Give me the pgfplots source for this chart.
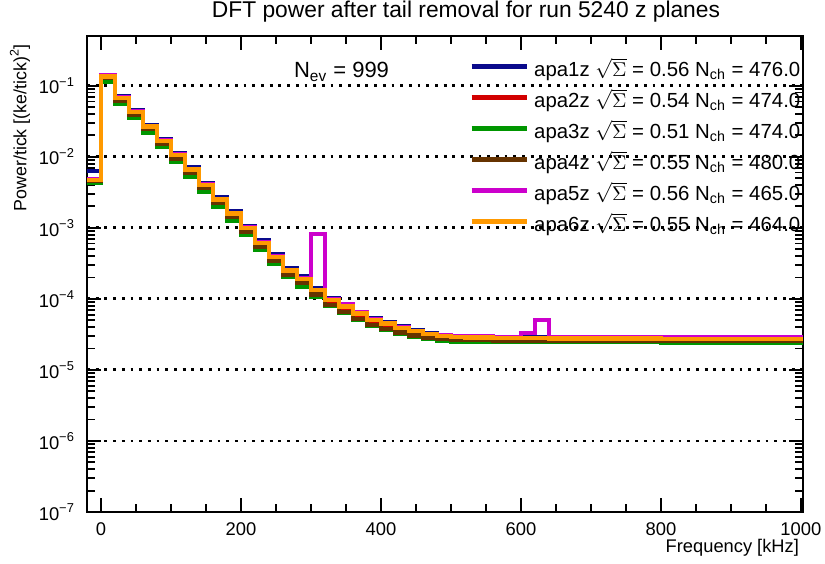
\documentclass[border=0pt]{standalone}
\usepackage{fontspec}
\setmainfont{Liberation Sans}
\usepackage{pgfplots}
\pgfplotsset{compat=1.18}

\definecolor{apaA}{RGB}{10,10,140}
\definecolor{apaB}{RGB}{210,0,0}
\definecolor{apaC}{RGB}{0,150,0}
\definecolor{apaD}{RGB}{102,51,0}
\definecolor{apaE}{RGB}{204,0,204}
\definecolor{apaF}{RGB}{255,153,0}

\begin{document}
\begin{tikzpicture}
% page = 825 x 563 px at 0.5pt per px
\path[use as bounding box] (-43.5pt,-25.5pt) rectangle (369pt,256pt);
\begin{axis}[
    name=main,
    at={(0,0)}, anchor=south west,
    scale only axis, width=358pt, height=238pt,
    ymode=log,
    xmin=-20, xmax=1003,
    ymin=1e-7, ymax=0.5,
    axis line style={line width=1.1pt},
    tick align=inside, xtick pos=both, ytick pos=both,
    xtick={0,200,400,600,800,1000}, minor x tick num=3,
    ytick={1e-7,1e-6,1e-5,1e-4,1e-3,1e-2,1e-1},
    yticklabels={10\textsuperscript{−7},10\textsuperscript{−6},10\textsuperscript{−5},10\textsuperscript{−4},10\textsuperscript{−3},10\textsuperscript{−2},10\textsuperscript{−1}},
    major tick length=7pt, minor tick length=3.8pt,
    every tick/.style={black, line width=0.9pt},
    /pgf/number format/assume math mode=true,
    /pgf/number format/1000 sep={},
    ticklabel style={font=\fontsize{9.2}{10}\selectfont},
    xticklabel style={yshift=-2pt},
    yticklabel style={xshift=-2.5pt},
    ymajorgrids,
    major grid style={black, line width=1.4pt, dash pattern=on 1.4pt off 2.95pt},
    legend cell align=left,
    legend style={at={(0.525,0.958)}, anchor=north west, draw=none, fill=none,
        font=\fontsize{10.2}{11}\selectfont, row sep=4.5pt,
        nodes={inner xsep=2.75pt, inner ysep=0pt, text height=8pt, text depth=3pt}},
    legend image code/.code={\draw[#1] (0pt,2.5pt) -- (27.5pt,2.5pt);},
    every axis plot/.append style={const plot, line width=2.2pt},
]
\addplot[apaA] coordinates {(-20,6.3e-3) (0,0.138) (20,0.070) (40,0.045) (60,0.028) (80,0.0178) (100,0.0113) (120,0.0071) (140,0.0043) (160,0.0027) (180,0.00170) (200,0.00106) (220,6.6e-4) (240,4.3e-4) (260,2.7e-4) (280,2.05e-4) (300,1.42e-4) (320,1.02e-4) (340,8.2e-5) (360,6.5e-5) (380,5.3e-5) (400,4.7e-5) (420,4.1e-5) (440,3.6e-5) (460,3.3e-5) (480,3.1e-5) (500,3.0e-5) (560,2.9e-5) (800,2.85e-5) (1003,2.85e-5)};
\addlegendentry{apa1z $\sqrt{\Sigma}$ = 0.56 N\textsubscript{ch} = 476.0}
\addplot[apaB] coordinates {(-20,4.8e-3) (0,0.13) (20,0.064) (40,0.041) (60,0.0253) (80,0.0158) (100,0.0099) (120,0.0061) (140,0.0037) (160,0.00232) (180,0.00147) (200,9.2e-4) (220,5.7e-4) (240,3.65e-4) (260,2.35e-4) (280,1.78e-4) (300,1.24e-4) (320,9.0e-5) (340,7.3e-5) (360,5.8e-5) (380,4.7e-5) (400,4.2e-5) (420,3.7e-5) (440,3.3e-5) (460,3.05e-5) (480,2.9e-5) (500,2.8e-5) (560,2.72e-5) (800,2.68e-5) (1003,2.68e-5)};
\addlegendentry{apa2z $\sqrt{\Sigma}$ = 0.54 N\textsubscript{ch} = 474.0}
\addplot[apaC] coordinates {(-20,4.3e-3) (0,0.114) (20,0.056) (40,0.035) (60,0.022) (80,0.0138) (100,0.0086) (120,0.0053) (140,0.0032) (160,0.0020) (180,0.00125) (200,7.9e-4) (220,4.9e-4) (240,3.15e-4) (260,2.05e-4) (280,1.5e-4) (300,1.06e-4) (320,7.9e-5) (340,6.4e-5) (360,5.1e-5) (380,4.2e-5) (400,3.7e-5) (420,3.2e-5) (440,2.9e-5) (460,2.7e-5) (480,2.6e-5) (500,2.5e-5) (560,2.45e-5) (800,2.4e-5) (1003,2.4e-5)};
\addlegendentry{apa3z $\sqrt{\Sigma}$ = 0.51 N\textsubscript{ch} = 474.0}
\addplot[apaD] coordinates {(-20,4.6e-3) (0,0.128) (20,0.062) (40,0.039) (60,0.0245) (80,0.0152) (100,0.0095) (120,0.0059) (140,0.0036) (160,0.00225) (180,0.00142) (200,8.8e-4) (220,5.4e-4) (240,3.4e-4) (260,2.2e-4) (280,1.66e-4) (300,1.15e-4) (320,8.2e-5) (340,6.5e-5) (360,5.2e-5) (380,4.3e-5) (400,3.8e-5) (420,3.35e-5) (440,3.05e-5) (460,2.8e-5) (480,2.7e-5) (500,2.62e-5) (560,2.58e-5) (800,2.55e-5) (1003,2.55e-5)};
\addlegendentry{apa4z $\sqrt{\Sigma}$ = 0.55 N\textsubscript{ch} = 480.0}
\addplot[apaE] coordinates {(-20,4.9e-3) (0,0.14) (20,0.068) (40,0.044) (60,0.0272) (80,0.0171) (100,0.0108) (120,0.0067) (140,0.0041) (160,0.00255) (180,0.00161) (200,0.00101) (220,6.3e-4) (240,4.0e-4) (260,2.56e-4) (280,1.94e-4) (300,8.1e-4) (320,1.0e-4) (340,8.5e-5) (360,6.4e-5) (380,5.1e-5) (400,4.6e-5) (420,4.0e-5) (440,3.55e-5) (460,3.2e-5) (480,3.05e-5) (500,2.95e-5) (560,2.9e-5) (600,3.3e-5) (620,5.0e-5) (640,2.88e-5) (800,2.85e-5) (1003,2.85e-5)};
\addlegendentry{apa5z $\sqrt{\Sigma}$ = 0.56 N\textsubscript{ch} = 465.0}
\addplot[apaF] coordinates {(-20,4.7e-3) (0,0.135) (20,0.067) (40,0.043) (60,0.0267) (80,0.0168) (100,0.0106) (120,0.0066) (140,0.0040) (160,0.0025) (180,0.00158) (200,9.9e-4) (220,6.1e-4) (240,3.9e-4) (260,2.5e-4) (280,1.9e-4) (300,1.32e-4) (320,9.6e-5) (340,7.8e-5) (360,6.2e-5) (380,5.0e-5) (400,4.5e-5) (420,3.9e-5) (440,3.5e-5) (460,3.2e-5) (480,3.0e-5) (500,2.9e-5) (520,2.85e-5) (560,2.8e-5) (640,2.77e-5) (800,2.74e-5) (900,2.72e-5) (1003,2.72e-5)};
\addlegendentry{apa6z $\sqrt{\Sigma}$ = 0.55 N\textsubscript{ch} = 464.0}
\end{axis}
\node[anchor=west, font=\fontsize{11}{13}\selectfont] at ([xshift=100pt, yshift=-18pt]main.north west) {N\textsubscript{ev} = 999};
\node[font=\fontsize{11.4}{13}\selectfont] at ([xshift=189.5pt, yshift=12pt]main.north west) {DFT power after tail removal for run 5240 z planes};
\node[anchor=east, font=\fontsize{9.15}{11}\selectfont] at ([xshift=1.5pt, yshift=-18pt]main.south east) {Frequency [kHz]};
\node[anchor=east, rotate=90, font=\fontsize{8.9}{11}\selectfont] at ([xshift=-33.5pt, yshift=-0.5pt]main.north west) {Power/tick [(ke/tick)\textsuperscript{2}]};
\end{tikzpicture}
\end{document}
